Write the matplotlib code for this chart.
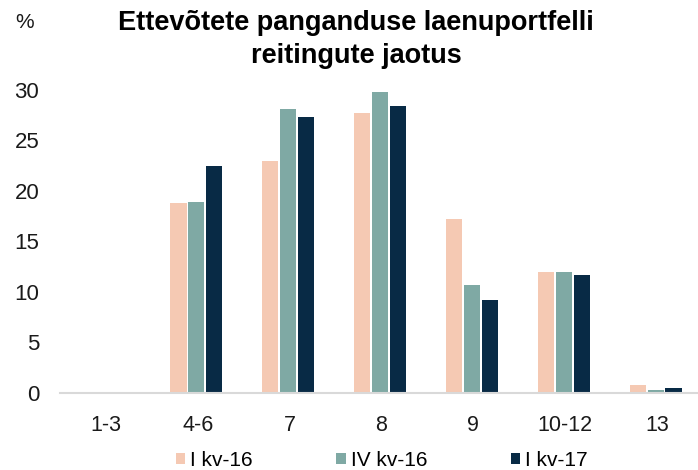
import matplotlib.pyplot as plt
import numpy as np
from matplotlib.patches import Patch

plt.rcParams['font.family'] = ['Liberation Sans', 'DejaVu Sans']

# Data
categories = ['1-3', '4-6', '7', '8', '9', '10-12', '13']
series_names = ['I kv-16', 'IV kv-16', 'I kv-17']
q1_16 = [0, 18.8, 23.0, 27.7, 17.2, 12.0, 0.8]
q4_16 = [0, 18.9, 28.1, 29.8, 10.7, 12.0, 0.25]
q1_17 = [0, 22.5, 27.3, 28.4, 9.2, 11.7, 0.5]
colors = ['#F5C9B3', '#7FA9A4', '#082A45']

x = np.arange(len(categories))
width = 0.175
step = 0.195
shift = -0.015

fig = plt.figure(figsize=(6.98, 4.70), dpi=100)
ax = fig.add_axes([0.086, 0.164, 0.921, 0.645])

for i, (vals, col, name) in enumerate(zip([q1_16, q4_16, q1_17], colors, series_names)):
    ax.bar(x + shift + (i - 1) * step, vals, width, color=col, label=name,
           linewidth=0, zorder=2)

ax.set_xlim(-0.5, len(categories) - 0.5)
ax.set_ylim(0, 30)
ax.set_yticks(np.arange(0, 31, 5))
ax.set_xticks(x)
ax.set_xticklabels(categories)
ax.tick_params(axis='both', length=0, colors='#1a1a1a')
ax.tick_params(axis='x', pad=16, labelsize=15.5)
ax.tick_params(axis='y', pad=15, labelsize=16)
for s in ['top', 'right', 'left']:
    ax.spines[s].set_visible(False)
ax.spines['bottom'].set_color('#d9d9d9')
ax.spines['bottom'].set_linewidth(1.5)

fig.text(0.022, 0.952, '%', fontsize=15, ha='left', va='center', color='#1a1a1a')
fig.text(0.51, 0.978, 'Ettevõtete panganduse laenuportfelli\nreitingute jaotus',
         fontsize=19.5, fontweight='bold', ha='center', va='top', linespacing=1.32)

handles = [Patch(facecolor=c, edgecolor='none') for c in colors]
fig.legend(handles, series_names, loc='center', bbox_to_anchor=(0.547, 0.021),
           ncol=3, frameon=False, fontsize=15, handlelength=0.45, handleheight=0.45,
           handletextpad=0.25, columnspacing=4.0, borderpad=0, borderaxespad=0)

fig.savefig('out.png', dpi=100)
